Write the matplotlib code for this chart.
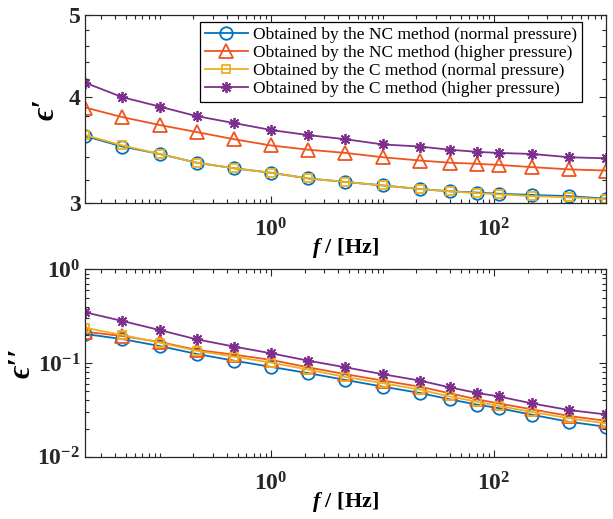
import numpy as np
import matplotlib
matplotlib.use("Agg")
import matplotlib.pyplot as plt
from matplotlib.ticker import FixedLocator, NullFormatter, LogLocator

plt.rcParams['font.family'] = ['Liberation Serif', 'DejaVu Serif']
plt.rcParams['font.weight'] = 'bold'
plt.rcParams['axes.labelweight'] = 'bold'
plt.rcParams['mathtext.fontset'] = 'custom'
plt.rcParams['mathtext.rm'] = 'Liberation Serif:bold'
plt.rcParams['mathtext.it'] = 'Liberation Serif:italic:bold'
plt.rcParams['mathtext.bf'] = 'Liberation Serif:bold'

# frequencies (Hz)
freq = [0.0215, 0.0464, 0.1, 0.215, 0.464, 1.0, 2.15, 4.64, 10.0, 21.5,
        40.0, 70.0, 110.0, 220.0, 470.0, 1000.0]

labels = ['Obtained by the NC method (normal pressure)',
          'Obtained by the NC method (higher pressure)',
          'Obtained by the C method (normal pressure)',
          'Obtained by the C method (higher pressure)']

# real part eps'
re_nc_normal = [3.60, 3.50, 3.43, 3.35, 3.30, 3.26, 3.21, 3.18, 3.15, 3.12,
                3.10, 3.09, 3.08, 3.07, 3.06, 3.04]
re_nc_higher = [3.89, 3.79, 3.71, 3.64, 3.57, 3.51, 3.47, 3.44, 3.40, 3.37,
                3.35, 3.34, 3.33, 3.31, 3.29, 3.28]
re_c_normal = [3.61, 3.51, 3.43, 3.35, 3.30, 3.26, 3.21, 3.18, 3.15, 3.12,
               3.10, 3.085, 3.075, 3.06, 3.05, 3.035]
re_c_higher = [4.16, 4.00, 3.90, 3.80, 3.73, 3.66, 3.61, 3.57, 3.52, 3.50,
               3.47, 3.45, 3.44, 3.43, 3.40, 3.39]

# imaginary part eps''
im_nc_normal = [0.204, 0.180, 0.152, 0.125, 0.106, 0.091, 0.078, 0.066, 0.056, 0.048,
                0.041, 0.036, 0.033, 0.028, 0.0236, 0.0209]
im_nc_higher = [0.216, 0.194, 0.168, 0.138, 0.123, 0.108, 0.090, 0.076, 0.065, 0.056,
                0.0475, 0.041, 0.037, 0.032, 0.0272, 0.0242]
im_c_normal = [0.238, 0.199, 0.165, 0.135, 0.117, 0.101, 0.085, 0.071, 0.061, 0.052,
               0.044, 0.0386, 0.0348, 0.030, 0.0257, 0.0227]
im_c_higher = [0.348, 0.281, 0.225, 0.179, 0.150, 0.127, 0.106, 0.090, 0.076, 0.065,
               0.055, 0.048, 0.044, 0.037, 0.0315, 0.0283]

colors = ['#0072BD', '#F0541E', '#EDB120', '#7E2F8E']
markers = ['o', '^', 's', (8, 2, 0)]
msizes = [9, 10, 6, 8]

fig = plt.figure(figsize=(6.13, 5.19), dpi=100)
ax1 = fig.add_axes([0.139, 0.608, 0.849, 0.3634])
ax2 = fig.add_axes([0.139, 0.120, 0.849, 0.361])

re_data = [re_nc_normal, re_nc_higher, re_c_normal, re_c_higher]
im_data = [im_nc_normal, im_nc_higher, im_c_normal, im_c_higher]

for vals, c, m, ms, lab in zip(re_data, colors, markers, msizes, labels):
    ax1.plot(freq, vals, '-', color=c, marker=m, mfc='none', ms=ms, lw=1.3, mew=1.3, label=lab)
for vals, c, m, ms in zip(im_data, colors, markers, msizes):
    ax2.plot(freq, vals, '-', color=c, marker=m, mfc='none', ms=ms, lw=1.3, mew=1.3)

minor_x = [m * 10.0 ** k for k in range(-2, 4) for m in range(1, 10)]
minor_x = [v for v in minor_x if freq[0] <= v <= freq[-1] and v not in (1.0, 100.0)]

for ax in (ax1, ax2):
    ax.set_xscale('log')
    ax.set_yscale('log')
    ax.set_xlim(freq[0], freq[-1])
    ax.xaxis.set_major_locator(FixedLocator([1, 100]))
    ax.xaxis.set_minor_locator(FixedLocator(minor_x))
    ax.xaxis.set_minor_formatter(NullFormatter())
    ax.tick_params(which='both', direction='in', top=True, right=True,
                   labelsize=17, colors='#262626', width=0.8)
    ax.tick_params(which='major', length=5)
    ax.tick_params(which='minor', length=3)
    ax.tick_params(axis='x', which='both', pad=11)
    for s in ax.spines.values():
        s.set_color('#262626')
        s.set_linewidth(0.9)
    ax.set_xlabel(r'$f$ / [Hz]', fontsize=16, fontweight='bold', labelpad=-4)

ax1.set_ylim(3, 5)
ax1.yaxis.set_major_locator(FixedLocator([3, 4, 5]))
ax1.set_yticklabels(['3', '4', '5'])
ax1.yaxis.set_minor_locator(FixedLocator([3.2, 3.4, 3.6, 3.8, 4.2, 4.4, 4.6, 4.8]))
ax1.yaxis.set_minor_formatter(NullFormatter())
ax1.set_ylabel('\u03f5\u2032', fontsize=22, style='italic', fontweight='bold', labelpad=6)

ax2.set_ylim(0.01, 1)
ax2.yaxis.set_major_locator(FixedLocator([0.01, 0.1, 1]))
ax2.yaxis.set_minor_locator(LogLocator(base=10, subs=np.arange(2, 10)))
ax2.yaxis.set_minor_formatter(NullFormatter())
ax2.set_ylabel('\u03f5\u2032\u2032', fontsize=22, style='italic', fontweight='bold', labelpad=1)

leg = ax1.legend(loc='upper right', bbox_to_anchor=(0.954, 0.961),
                 prop={'weight': 'normal', 'size': 12.5}, frameon=True, fancybox=False,
                 edgecolor='black', framealpha=1, borderpad=0.25, labelspacing=0.12,
                 handlelength=2.5, handletextpad=0.3, borderaxespad=0)
leg.get_frame().set_linewidth(0.9)

fig.savefig('out.png', dpi=100)
